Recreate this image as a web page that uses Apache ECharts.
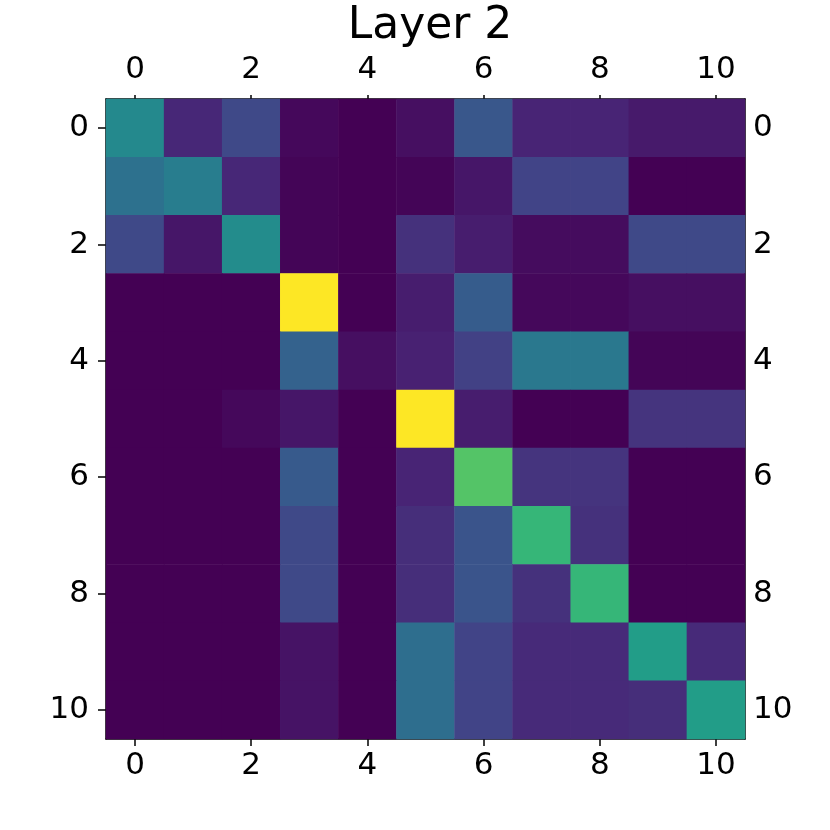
<!DOCTYPE html>
<html>
<head>
<meta charset="utf-8">
<script src="https://cdn.jsdelivr.net/npm/echarts@6/dist/echarts.min.js"></script>
<style>
  html, body { margin: 0; padding: 0; background: #fff; }
  #chart { width: 830px; height: 830px; }
</style>
</head>
<body>
<div id="chart"></div>
<script>
// 11x11 weight matrix (rows = y index, cols = x index), values on 0..1 scale
const labels = ['0', '1', '2', '3', '4', '5', '6', '7', '8', '9', '10']
const row0 = [0.47, 0.11, 0.22, 0.02, 0.00, 0.04, 0.27, 0.10, 0.10, 0.07, 0.07]
const row1 = [0.37, 0.42, 0.11, 0.01, 0.00, 0.01, 0.06, 0.20, 0.20, 0.00, 0.00]
const row2 = [0.22, 0.06, 0.48, 0.01, 0.00, 0.14, 0.08, 0.03, 0.03, 0.22, 0.22]
const row3 = [0.00, 0.00, 0.00, 1.00, 0.00, 0.08, 0.29, 0.02, 0.02, 0.04, 0.04]
const row4 = [0.00, 0.00, 0.00, 0.31, 0.04, 0.09, 0.19, 0.40, 0.40, 0.01, 0.01]
const row5 = [0.00, 0.00, 0.02, 0.06, 0.00, 1.00, 0.08, 0.00, 0.00, 0.15, 0.15]
const row6 = [0.00, 0.00, 0.00, 0.28, 0.00, 0.10, 0.73, 0.15, 0.15, 0.00, 0.00]
const row7 = [0.00, 0.00, 0.00, 0.22, 0.00, 0.13, 0.26, 0.66, 0.14, 0.00, 0.00]
const row8 = [0.00, 0.00, 0.00, 0.22, 0.00, 0.13, 0.26, 0.14, 0.66, 0.00, 0.00]
const row9 = [0.00, 0.00, 0.00, 0.05, 0.00, 0.36, 0.20, 0.12, 0.12, 0.55, 0.12]
const row10 = [0.00, 0.00, 0.00, 0.05, 0.00, 0.36, 0.20, 0.12, 0.12, 0.13, 0.55]
const rows = [row0, row1, row2, row3, row4, row5, row6, row7, row8, row9, row10]

const viridis = ['#440154', '#482475', '#414487', '#355f8d', '#2a788e', '#21918c',
  '#22a884', '#44bf70', '#7ad151', '#bddf26', '#fde725']

const cells = []
rows.forEach((r, y) => r.forEach((v, x) => cells.push([x, y, v])))

const font = 'DejaVu Sans'
// matplotlib-like category axis; ticks/labels only on even indices
function makeAxis(pos, tickLen, inside, margin) {
  return {
    type: 'category',
    data: labels,
    position: pos,
    boundaryGap: true,
    axisLine: { show: true, lineStyle: { color: '#000', width: 1.5 } },
    axisTick: {
      show: true, interval: 1, alignWithLabel: true, inside: inside,
      length: tickLen, lineStyle: { color: '#000', width: 1.5 }
    },
    axisLabel: { interval: 1, color: '#000', fontFamily: font, fontSize: 31, margin: margin },
    splitLine: { show: false }
  }
}

const chart = echarts.init(document.getElementById('chart'))
chart.setOption({
  animation: false,
  title: {
    text: 'Layer 2',
    left: 425,
    textAlign: 'center',
    top: 0,
    textStyle: { fontFamily: font, fontSize: 44, fontWeight: 'normal', color: '#000' }
  },
  grid: { left: 106, top: 99, width: 639, height: 640 },
  xAxis: [makeAxis('bottom', 7, false, 11), makeAxis('top', 4, false, 14)],
  yAxis: [
    Object.assign(makeAxis('left', 8, false, 17), { inverse: true }),
    Object.assign(makeAxis('right', 8, true, 8), { inverse: true })
  ],
  visualMap: {
    show: false,
    min: 0,
    max: 1,
    inRange: { color: viridis }
  },
  series: [{
    type: 'heatmap',
    xAxisIndex: 0,
    yAxisIndex: 0,
    data: cells,
    itemStyle: { borderWidth: 0 },
    emphasis: { disabled: true }
  }]
})
</script>
</body>
</html>
